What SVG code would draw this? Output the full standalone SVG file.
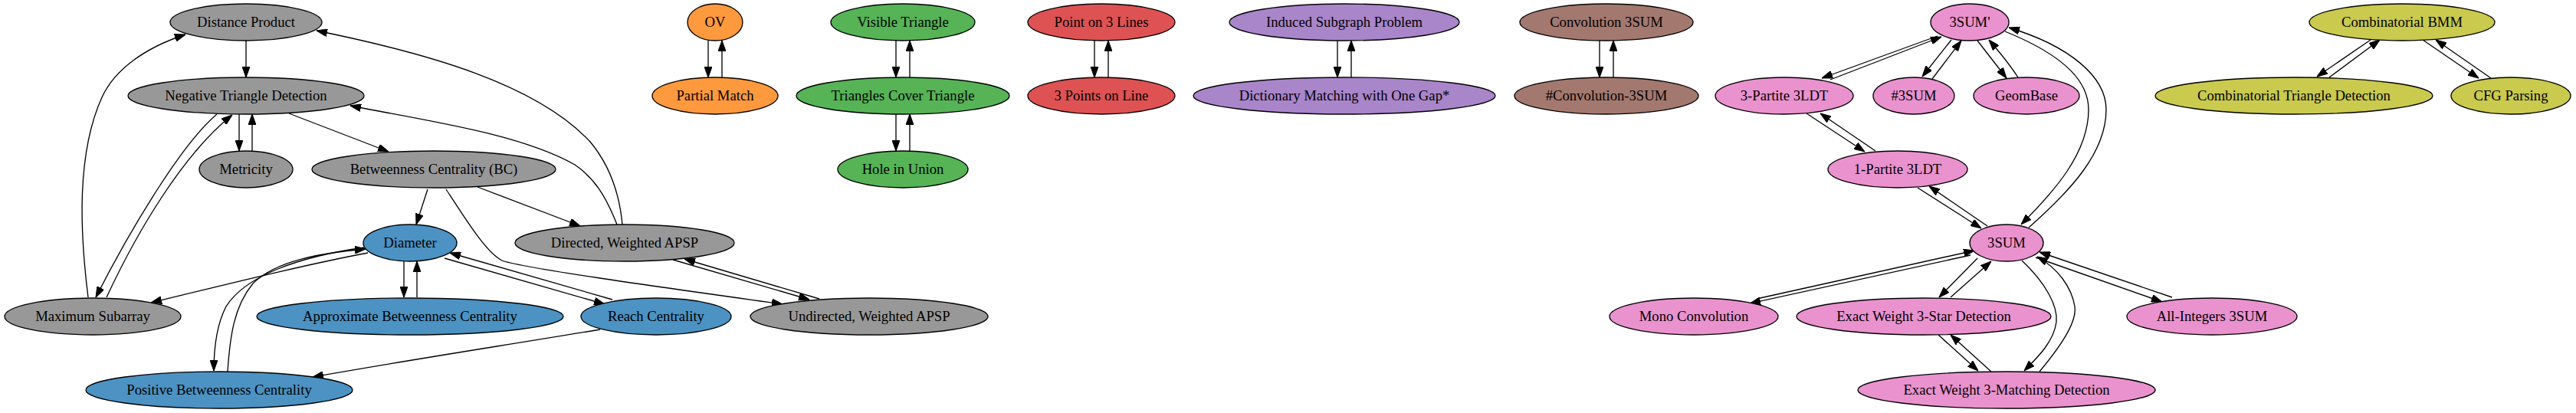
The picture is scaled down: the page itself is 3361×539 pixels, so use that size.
<svg xmlns="http://www.w3.org/2000/svg" width="3361" height="539" viewBox="0 0 3361 539">
<style>
.n ellipse{stroke:#000;stroke-width:1.33}
.n text{font-family:"Liberation Serif","Times New Roman",serif;font-size:18.67px;text-anchor:middle;fill:#000}
.gray ellipse{fill:#989898}
.blue ellipse{fill:#4c92c3}
.orange ellipse{fill:#ff993e}
.green ellipse{fill:#56b356}
.red ellipse{fill:#de5253}
.purple ellipse{fill:#a985ca}
.brown ellipse{fill:#a3786f}
.pink ellipse{fill:#e992ce}
.olive ellipse{fill:#c9ca4e}
#edges path{fill:none;stroke:#000;stroke-width:1.33;marker-end:url(#ah)}
</style>
<defs>
<marker id="ah" markerUnits="userSpaceOnUse" markerWidth="14" markerHeight="10" viewBox="0 0 13.3 9.4" refX="13.3" refY="4.7" orient="auto">
<path d="M0,0 L13.3,4.7 L0,9.4 z" fill="#000" stroke="#000" stroke-width="1"/>
</marker>
</defs>
<rect width="3361" height="539" fill="#fff"/>
<g id="edges">
<path d="M321,53 L321,101"/>
<path d="M312,149 L312,197"/>
<path d="M329,197 L329,149"/>
<path d="M377,148 L507,198"/>
<path d="M283,149 C240,185 175,290 125,388"/>
<path d="M139,388 C180,300 240,200 303,150"/>
<path d="M115,388 C104,300 100,200 133,127 C150,90 190,62 242,45"/>
<path d="M812,293 C808,250 795,215 770,185 C700,110 560,70 413,40"/>
<path d="M805,293 C790,255 775,232 750,215 C680,175 560,158 457,138"/>
<path d="M558,247 L543,293"/>
<path d="M623,244 L757,295"/>
<path d="M582,247 C610,290 635,330 655,340 C680,350 900,380 1021,397"/>
<path d="M527,341 L527,388"/>
<path d="M544,388 L544,341"/>
<path d="M580,337 L789,397"/>
<path d="M799,391 L587,330"/>
<path d="M480,330 C400,345 300,370 197,395"/>
<path d="M475,323 C390,335 320,360 295,400 C282,425 279,460 279,484"/>
<path d="M297,485 C300,440 305,400 330,370 C360,340 420,330 477,325"/>
<path d="M783,430 C650,452 520,472 408,492"/>
<path d="M878,339 L1056,391"/>
<path d="M1069,390 L893,338"/>
<path d="M924,53 L924,101"/>
<path d="M942,101 L942,53"/>
<path d="M1169,53 L1169,101"/>
<path d="M1187,101 L1187,53"/>
<path d="M1169,149 L1169,197"/>
<path d="M1187,197 L1187,149"/>
<path d="M1428,53 L1428,101"/>
<path d="M1446,101 L1446,53"/>
<path d="M1745,53 L1745,101"/>
<path d="M1763,101 L1763,53"/>
<path d="M2087,53 L2087,101"/>
<path d="M2105,101 L2105,53"/>
<path d="M2528,47 L2377,102"/>
<path d="M2388,104 L2533,48"/>
<path d="M2546,52 L2508,100"/>
<path d="M2521,103 L2559,53"/>
<path d="M2580,53 L2618,102"/>
<path d="M2633,101 C2622,84 2608,67 2595,52"/>
<path d="M2357,148 L2433,198"/>
<path d="M2447,197 L2375,148"/>
<path d="M2502,245 L2585,298"/>
<path d="M2593,295 L2517,243"/>
<path d="M2616,41 C2700,75 2725,110 2725,143 C2725,200 2680,250 2637,293"/>
<path d="M2647,297 C2700,250 2748,200 2748,143 C2748,100 2700,60 2621,36"/>
<path d="M2571,333 L2283,396"/>
<path d="M2292,390 L2576,327"/>
<path d="M2580,337 L2530,388"/>
<path d="M2545,388 L2598,341"/>
<path d="M2638,340 C2670,370 2685,400 2683,420 C2680,445 2660,465 2641,484"/>
<path d="M2661,485 C2690,450 2710,420 2707,400 C2703,375 2685,350 2658,335"/>
<path d="M2529,437 L2581,484"/>
<path d="M2598,485 L2545,437"/>
<path d="M2656,336 L2821,394"/>
<path d="M2834,388 L2661,329"/>
<path d="M3093,52 L3023,100"/>
<path d="M3039,101 L3105,52"/>
<path d="M3161,52 L3234,102"/>
<path d="M3250,102 L3178,52"/>
</g>
<g id="distance_product" class="n gray"><ellipse cx="321" cy="29" rx="99" ry="24"/><text x="321" y="35">Distance Product</text></g>
<g id="negative_triangle" class="n gray"><ellipse cx="321" cy="125" rx="154" ry="24"/><text x="321" y="131">Negative Triangle Detection</text></g>
<g id="metricity" class="n gray"><ellipse cx="321" cy="221" rx="61" ry="24"/><text x="321" y="227">Metricity</text></g>
<g id="bc" class="n gray"><ellipse cx="566" cy="221" rx="159" ry="24"/><text x="566" y="227">Betweenness Centrality (BC)</text></g>
<g id="directed_apsp" class="n gray"><ellipse cx="815" cy="317" rx="143" ry="24"/><text x="815" y="323">Directed, Weighted APSP</text></g>
<g id="max_subarray" class="n gray"><ellipse cx="121" cy="413" rx="115" ry="24"/><text x="121" y="419">Maximum Subarray</text></g>
<g id="undirected_apsp" class="n gray"><ellipse cx="1134" cy="413" rx="155" ry="24"/><text x="1134" y="419">Undirected, Weighted APSP</text></g>
<g id="diameter" class="n blue"><ellipse cx="535" cy="317" rx="61" ry="24"/><text x="535" y="323">Diameter</text></g>
<g id="approx_bc" class="n blue"><ellipse cx="535" cy="413" rx="200" ry="24"/><text x="535" y="419">Approximate Betweenness Centrality</text></g>
<g id="reach" class="n blue"><ellipse cx="856" cy="413" rx="98" ry="24"/><text x="856" y="419">Reach Centrality</text></g>
<g id="positive_bc" class="n blue"><ellipse cx="286" cy="509" rx="174" ry="24"/><text x="286" y="515">Positive Betweenness Centrality</text></g>
<g id="ov" class="n orange"><ellipse cx="933" cy="29" rx="36" ry="24"/><text x="933" y="35">OV</text></g>
<g id="partial_match" class="n orange"><ellipse cx="933" cy="125" rx="82" ry="24"/><text x="933" y="131">Partial Match</text></g>
<g id="visible_triangle" class="n green"><ellipse cx="1178" cy="29" rx="94" ry="24"/><text x="1178" y="35">Visible Triangle</text></g>
<g id="triangles_cover" class="n green"><ellipse cx="1178" cy="125" rx="139" ry="24"/><text x="1178" y="131">Triangles Cover Triangle</text></g>
<g id="hole_in_union" class="n green"><ellipse cx="1178" cy="221" rx="85" ry="24"/><text x="1178" y="227">Hole in Union</text></g>
<g id="point_on_3_lines" class="n red"><ellipse cx="1437" cy="29" rx="96" ry="24"/><text x="1437" y="35">Point on 3 Lines</text></g>
<g id="three_points_on_line" class="n red"><ellipse cx="1437" cy="125" rx="96" ry="24"/><text x="1437" y="131">3 Points on Line</text></g>
<g id="induced_subgraph" class="n purple"><ellipse cx="1754" cy="29" rx="150" ry="24"/><text x="1754" y="35">Induced Subgraph Problem</text></g>
<g id="dictionary_matching" class="n purple"><ellipse cx="1754" cy="125" rx="197" ry="24"/><text x="1754" y="131">Dictionary Matching with One Gap*</text></g>
<g id="convolution_3sum" class="n brown"><ellipse cx="2096" cy="29" rx="113" ry="24"/><text x="2096" y="35">Convolution 3SUM</text></g>
<g id="count_convolution_3sum" class="n brown"><ellipse cx="2096" cy="125" rx="120" ry="24"/><text x="2096" y="131">#Convolution-3SUM</text></g>
<g id="threesum_prime" class="n pink"><ellipse cx="2570" cy="29" rx="51" ry="24"/><text x="2570" y="35">3SUM'</text></g>
<g id="three_partite_3ldt" class="n pink"><ellipse cx="2328" cy="125" rx="90" ry="24"/><text x="2328" y="131">3-Partite 3LDT</text></g>
<g id="count_3sum" class="n pink"><ellipse cx="2497" cy="125" rx="53" ry="24"/><text x="2497" y="131">#3SUM</text></g>
<g id="geombase" class="n pink"><ellipse cx="2644" cy="125" rx="69" ry="24"/><text x="2644" y="131">GeomBase</text></g>
<g id="one_partite_3ldt" class="n pink"><ellipse cx="2476" cy="221" rx="91" ry="24"/><text x="2476" y="227">1-Partite 3LDT</text></g>
<g id="threesum" class="n pink"><ellipse cx="2618" cy="317" rx="48" ry="24"/><text x="2618" y="323">3SUM</text></g>
<g id="mono_convolution" class="n pink"><ellipse cx="2210" cy="413" rx="110" ry="24"/><text x="2210" y="419">Mono Convolution</text></g>
<g id="exact_3star" class="n pink"><ellipse cx="2510" cy="413" rx="166" ry="24"/><text x="2510" y="419">Exact Weight 3-Star Detection</text></g>
<g id="all_integers_3sum" class="n pink"><ellipse cx="2886" cy="413" rx="111" ry="24"/><text x="2886" y="419">All-Integers 3SUM</text></g>
<g id="exact_3matching" class="n pink"><ellipse cx="2618" cy="509" rx="194" ry="24"/><text x="2618" y="515">Exact Weight 3-Matching Detection</text></g>
<g id="combinatorial_bmm" class="n olive"><ellipse cx="3134" cy="29" rx="121" ry="24"/><text x="3134" y="35">Combinatorial BMM</text></g>
<g id="combinatorial_triangle" class="n olive"><ellipse cx="2993" cy="125" rx="181" ry="24"/><text x="2993" y="131">Combinatorial Triangle Detection</text></g>
<g id="cfg_parsing" class="n olive"><ellipse cx="3276" cy="125" rx="78" ry="24"/><text x="3276" y="131">CFG Parsing</text></g>
</svg>
